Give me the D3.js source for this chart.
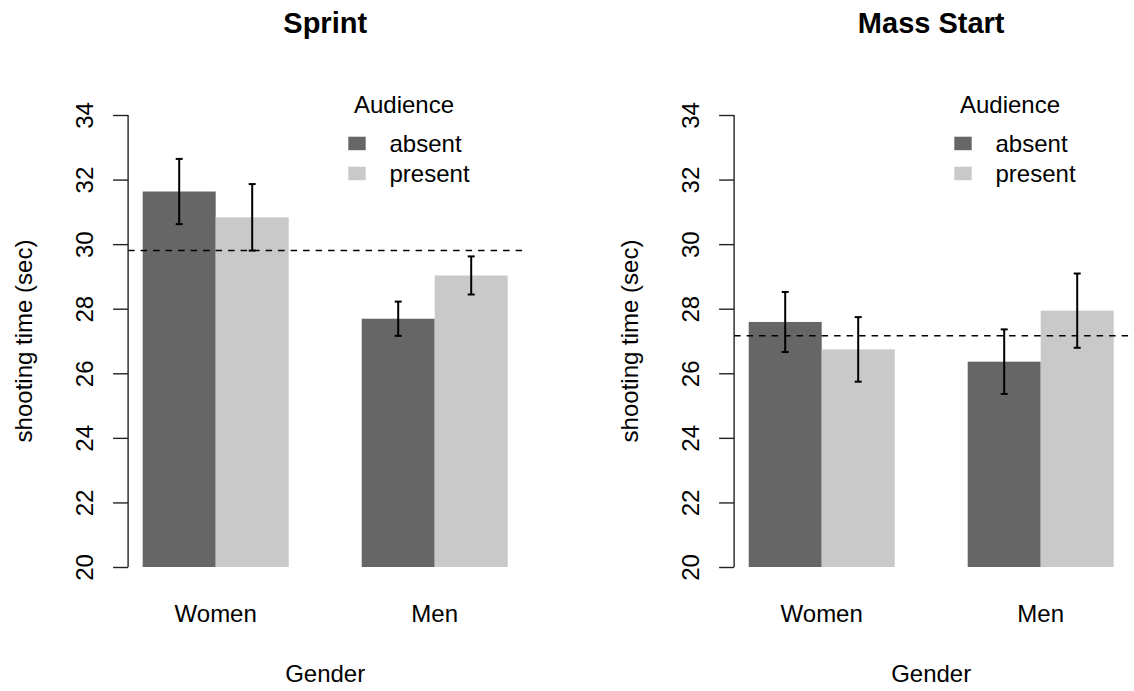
<!DOCTYPE html>
<html>
<head>
<meta charset="utf-8">
<script src="https://cdn.jsdelivr.net/npm/d3@7"></script>
<style>
  html, body { margin: 0; padding: 0; background: #fff; }
  svg { display: block; }
  text { font-family: "Liberation Sans", Arial, Helvetica, sans-serif; fill: #000; }
</style>
</head>
<body>
<svg id="chart" width="1134" height="691"></svg>
<script>
// ---- data ----
const panels = ["Sprint", "Mass Start"];
const genders = ["Women", "Men"];
const audience = ["absent", "present"];
const yTicks = [20, 22, 24, 26, 28, 30, 32, 34];
// means [Women absent, Women present, Men absent, Men present]
const sprintMeans = [31.63, 30.83, 27.69, 29.03];
const sprintErr   = [1.01, 1.03, 0.53, 0.59];
const sprintRef   = 29.80;
const massMeans   = [27.59, 26.74, 26.36, 27.94];
const massErr     = [0.93, 1.00, 1.00, 1.15];
const massRef     = 27.16;

const colors = { absent: "#666666", present: "#c9c9c9" };

const svg = d3.select("#chart");

function drawPanel(offsetX, title, means, errs, ref) {
  const g = svg.append("g").attr("transform", `translate(${offsetX},0)`);
  const plotLeft = 128.1, plotRight = 522.3, top = 115, bottom = 567;

  // R barplot units: bars at [1,2],[2,3],[4,5],[5,6], xlim [0.8, 6.2]
  const x = d3.scaleLinear().domain([0.8, 6.2]).range([plotLeft, plotRight]);
  const y = d3.scaleLinear().domain([20, 34]).range([bottom, top]);

  const bars = [];
  genders.forEach((gen, gi) => {
    audience.forEach((aud, ai) => {
      const idx = gi * 2 + ai;
      const left = 1 + gi * 3 + ai;
      bars.push({ gen, aud, left, mean: means[idx], err: errs[idx] });
    });
  });

  g.selectAll("rect.bar").data(bars).enter().append("rect")
    .attr("class", "bar")
    .attr("x", d => x(d.left))
    .attr("width", d => x(d.left + 1) - x(d.left))
    .attr("y", d => y(d.mean))
    .attr("height", d => y(20) - y(d.mean))
    .attr("fill", d => colors[d.aud]);

  // reference dashed line
  g.append("line")
    .attr("x1", x(0.8)).attr("x2", x(6.2))
    .attr("y1", y(ref)).attr("y2", y(ref))
    .attr("stroke", "#000").attr("stroke-width", 1.5)
    .attr("stroke-dasharray", "6.5,6");

  // error bars
  const eb = g.selectAll("g.err").data(bars).enter().append("g").attr("class", "err");
  eb.append("line")
    .attr("x1", d => x(d.left + 0.5)).attr("x2", d => x(d.left + 0.5))
    .attr("y1", d => y(d.mean - d.err)).attr("y2", d => y(d.mean + d.err))
    .attr("stroke", "#000").attr("stroke-width", 2);
  [-1, 1].forEach(s => {
    eb.append("line")
      .attr("x1", d => x(d.left + 0.5) - 3.5).attr("x2", d => x(d.left + 0.5) + 3.5)
      .attr("y1", d => y(d.mean + s * d.err)).attr("y2", d => y(d.mean + s * d.err))
      .attr("stroke", "#000").attr("stroke-width", 2);
  });

  // y axis
  const yAxis = d3.axisLeft(y).tickValues(yTicks).tickSize(15).tickPadding(0).tickFormat(d3.format("d"));
  const ag = g.append("g").attr("transform", `translate(${plotLeft},0)`).call(yAxis);
  ag.select(".domain").attr("stroke", "#222").attr("stroke-width", 1.4)
    .attr("d", `M0,${top}V${bottom}`);
  ag.selectAll(".tick line").attr("stroke", "#222").attr("stroke-width", 1.4);
  ag.selectAll(".tick text")
    .attr("x", 0).attr("y", 0).attr("dy", null)
    .attr("transform", "translate(-35,0) rotate(-90)")
    .attr("text-anchor", "middle")
    .style("font-size", "24px")
    .style("font-family", '"Liberation Sans", Arial, sans-serif')
    .attr("fill", "#000");

  // group labels
  g.selectAll("text.glab").data(genders).enter().append("text")
    .attr("class", "glab")
    .attr("x", (d, i) => x(2 + i * 3))
    .attr("y", 621.5)
    .attr("text-anchor", "middle")
    .style("font-size", "24px")
    .text(d => d);

  const cx = (x(0.8) + x(6.2)) / 2;
  // x axis title
  g.append("text").attr("x", cx).attr("y", 681.5)
    .attr("text-anchor", "middle").style("font-size", "24px").text("Gender");

  // y axis title
  g.append("text")
    .attr("transform", `translate(31.5,${(top + bottom) / 2}) rotate(-90)`)
    .attr("text-anchor", "middle").style("font-size", "24px")
    .text("shooting time (sec)");

  // panel title
  g.append("text").attr("x", cx).attr("y", 33)
    .attr("text-anchor", "middle").style("font-size", "29px").style("font-weight", "bold")
    .text(title);

  // legend
  const lg = g.append("g");
  lg.append("text").attr("x", 404).attr("y", 113.3)
    .attr("text-anchor", "middle").style("font-size", "24px").text("Audience");
  audience.forEach((a, i) => {
    lg.append("rect").attr("x", 348.3).attr("y", 136.7 + i * 30)
      .attr("width", 17.4).attr("height", 13.5).attr("fill", colors[a]);
    lg.append("text").attr("x", 389.5).attr("y", 151.7 + i * 30)
      .style("font-size", "24px").text(a);
  });
}

drawPanel(0, panels[0], sprintMeans, sprintErr, sprintRef);
drawPanel(606, panels[1], massMeans, massErr, massRef);
</script>
</body>
</html>
